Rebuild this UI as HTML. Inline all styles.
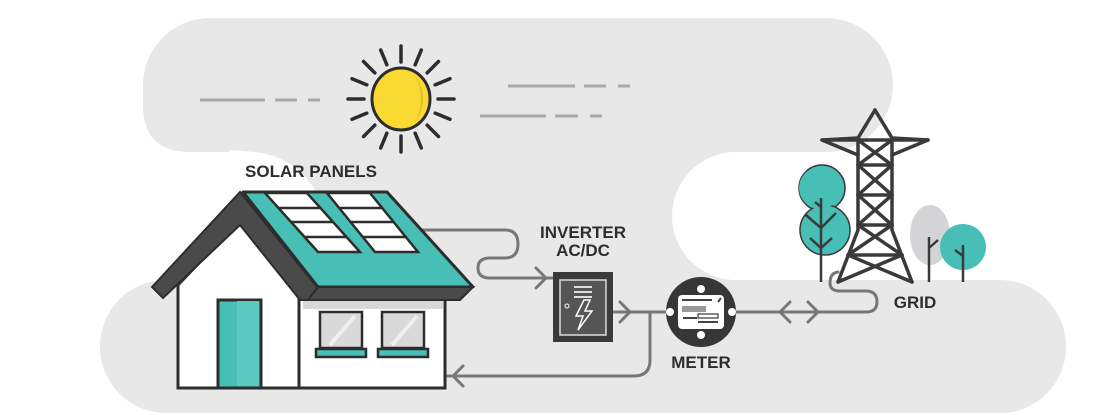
<!DOCTYPE html>
<html><head><meta charset="utf-8"><style>
html,body{margin:0;padding:0;background:#fff;}
svg{display:block;}
text{font-family:"Liberation Sans",sans-serif;font-weight:bold;fill:#2d2d2d;}
</style></head><body>
<svg width="1100" height="415" viewBox="0 0 1100 415" xmlns="http://www.w3.org/2000/svg">
<!-- background -->
<g fill="#e8e8e9">
<path d="M210 18 L826 18 A67 67 0 0 1 826 152 L190 152 Q143 152 143 105 L143 85 A67 67 0 0 1 210 18 Z"/>
<rect x="240" y="140" width="490" height="160"/>
</g>
<path d="M230 150 L255 152 Q305 158 325 210 L230 210 Z" fill="#fff"/>
<rect x="672" y="152" width="600" height="128" rx="64" fill="#fff"/>
<rect x="100" y="280" width="966" height="133" rx="66" fill="#e8e8e9"/>

<!-- dashes -->
<g stroke="#a9a9a9" stroke-width="3">
<line x1="200" y1="100" x2="265" y2="100"/><line x1="275" y1="100" x2="297" y2="100"/><line x1="308" y1="100" x2="320" y2="100"/>
<line x1="508" y1="86" x2="575" y2="86"/><line x1="584" y1="86" x2="606" y2="86"/><line x1="618" y1="86" x2="630" y2="86"/>
<line x1="480" y1="116" x2="546" y2="116"/><line x1="555" y1="116" x2="578" y2="116"/><line x1="590" y1="116" x2="602" y2="116"/>
</g>

<!-- sun -->
<g transform="translate(401,99)" stroke="#2d2d2d" stroke-width="3.5" stroke-linecap="round">
<g id="ray"><line x1="0" y1="-37" x2="0" y2="-53"/></g>
<use href="#ray" transform="rotate(22.5)"/><use href="#ray" transform="rotate(45)"/><use href="#ray" transform="rotate(67.5)"/>
<use href="#ray" transform="rotate(90)"/><use href="#ray" transform="rotate(112.5)"/><use href="#ray" transform="rotate(135)"/>
<use href="#ray" transform="rotate(157.5)"/><use href="#ray" transform="rotate(180)"/><use href="#ray" transform="rotate(202.5)"/>
<use href="#ray" transform="rotate(225)"/><use href="#ray" transform="rotate(247.5)"/><use href="#ray" transform="rotate(270)"/>
<use href="#ray" transform="rotate(292.5)"/><use href="#ray" transform="rotate(315)"/><use href="#ray" transform="rotate(337.5)"/>
<ellipse cx="0" cy="0" rx="29" ry="31" fill="#fbd933" stroke-width="3"/>
<path d="M14 -24 Q30 0 14 24 Q26 0 14 -24Z" fill="#e0bd2a" stroke="none"/>
</g>

<text x="311" y="177" font-size="17" text-anchor="middle">SOLAR PANELS</text>
<text x="583" y="238" font-size="17" text-anchor="middle">INVERTER</text>
<text x="583" y="256" font-size="17" text-anchor="middle">AC/DC</text>
<text x="701" y="368" font-size="17" text-anchor="middle">METER</text>
<text x="915" y="308" font-size="17" text-anchor="middle">GRID</text>

<!-- connectors -->
<g fill="none" stroke="#777" stroke-width="3" stroke-linecap="round" stroke-linejoin="round">
<path d="M407 230 L505 230 Q518 230 518 244 Q518 258 505 258 L490 258 Q478 258 478 268 Q478 278 490 278 L553 278"/>
<path d="M536 268 L546 278 L536 288"/>
<path d="M613 312 L667 312"/>
<path d="M620 302 L630 312 L620 322"/>
<path d="M650 312 L650 360 Q650 376 634 376 L447 376"/>
<path d="M463 366 L453 376 L463 386"/>
<path d="M736 312 L866 312 Q877 312 877 302 Q877 291 866 291 L840 291 Q830 291 830 283 Q830 273 838 272"/>
<path d="M790 302 L780 312 L790 322"/>
<path d="M808 302 L818 312 L808 322"/>
</g>

<!-- house -->
<path d="M178 285 L240 220 L299 285 L299 388 L178 388 Z" fill="#fff" stroke="#2d2d2d" stroke-width="3"/>
<rect x="299" y="297" width="146" height="91" fill="#fff" stroke="#2d2d2d" stroke-width="3"/>
<rect x="303" y="297" width="140" height="12" fill="#d8d8d8"/>
<path d="M152 287 L240 192 L318 288 L318 300 L300 300 L240 225 L163 298 Z" fill="#4a4a4a" stroke="#2d2d2d" stroke-width="2"/>
<path d="M243 192 L387 192 L473 287 L318 287 Z" fill="#47bfb6" stroke="#2d2d2d" stroke-width="3" stroke-linejoin="round"/>
<path d="M318 287 L473 287 L460 300 L308 300 Z" fill="#4a4a4a" stroke="#2d2d2d" stroke-width="2"/>
<g fill="#fff" stroke="#2d2d2d" stroke-width="2.5">
<path d="M265 193 L307 193 L360 252 L318 252 Z"/>
<path d="M327 193 L370 193 L418 252 L375 252 Z"/>
</g>
<g stroke="#2d2d2d" stroke-width="2.5">
<line x1="278" y1="208" x2="320" y2="208"/><line x1="291" y1="222" x2="333" y2="222"/><line x1="305" y1="237" x2="347" y2="237"/>
<line x1="339" y1="208" x2="382" y2="208"/><line x1="351" y1="222" x2="394" y2="222"/><line x1="363" y1="237" x2="406" y2="237"/>
</g>
<rect x="218" y="300" width="43" height="88" fill="#47bfb6" stroke="#2d2d2d" stroke-width="3"/>
<rect x="237" y="301" width="22" height="85" fill="#5cc9c0"/>
<g stroke="#2d2d2d" stroke-width="2.5">
<rect x="320" y="312" width="42" height="36" fill="#d9d9d9"/>
<rect x="382" y="312" width="42" height="36" fill="#d9d9d9"/>
<rect x="316" y="349" width="50" height="8" fill="#47bfb6"/>
<rect x="378" y="349" width="50" height="8" fill="#47bfb6"/>
</g>
<g stroke="#f0f0f0" stroke-width="4"><line x1="330" y1="345" x2="355" y2="316"/><line x1="392" y1="345" x2="417" y2="316"/></g>

<!-- inverter -->
<rect x="553" y="272" width="60" height="70" fill="#3a3a3a"/>
<rect x="560" y="280" width="46" height="55" fill="#555" stroke="#ddd" stroke-width="1.5"/>
<g stroke="#ddd" stroke-width="2"><line x1="574" y1="287" x2="592" y2="287"/><line x1="574" y1="292" x2="592" y2="292"/><line x1="574" y1="297" x2="592" y2="297"/></g>
<circle cx="567" cy="306" r="2" fill="none" stroke="#ddd" stroke-width="1.3"/>
<path d="M584 300 L576 316 L583 316 L578 330 L592 311 L585 311 L590 300 Z" fill="#555" stroke="#fff" stroke-width="1.5"/>

<!-- meter -->
<circle cx="701" cy="312" r="35" fill="#363636"/>
<rect x="678" y="295" width="46" height="34" rx="4" fill="#fff"/>
<g stroke="#444" stroke-width="2"><line x1="682" y1="300" x2="712" y2="300"/><line x1="683" y1="318" x2="697" y2="318"/><line x1="698" y1="322" x2="718" y2="322"/><line x1="718" y1="302" x2="721" y2="298"/></g>
<rect x="682" y="306" width="24" height="6" fill="#999"/>
<rect x="698" y="314" width="20" height="4" fill="none" stroke="#444" stroke-width="1.3"/>
<g fill="#fff"><circle cx="701" cy="289" r="4"/><circle cx="701" cy="335" r="4"/><circle cx="670" cy="312" r="4"/><circle cx="732" cy="312" r="4"/></g>

<!-- trees -->
<ellipse cx="930" cy="235" rx="20" ry="30" fill="#d4d4d6"/>
<circle cx="822" cy="188" r="23" fill="#47bfb6" stroke="#3a3a3a" stroke-width="1.5"/>
<circle cx="825" cy="230" r="25" fill="#47bfb6" stroke="#3a3a3a" stroke-width="1.5"/>
<circle cx="820" cy="188" r="21" fill="#47bfb6"/>
<circle cx="963" cy="247" r="23" fill="#47bfb6"/>
<g stroke="#3a3a3a" stroke-width="2.5" fill="none">
<line x1="821" y1="198" x2="821" y2="282"/>
<path d="M806 215 L821 228 L836 213"/><path d="M810 238 L821 248 L832 238"/><path d="M815 202 L821 207"/>
<line x1="929" y1="237" x2="929" y2="282"/><path d="M929 248 L938 240"/>
<line x1="963" y1="245" x2="963" y2="282"/><path d="M955 250 L963 256"/>
</g>

<!-- tower -->
<g stroke="#3a3a3a" stroke-width="3.5" fill="none" stroke-linejoin="round" stroke-linecap="round">
<path d="M875 110 L858 138 L822 140 L858 155"/>
<path d="M875 110 L892 138 L928 140 L892 155"/>
<line x1="822" y1="140" x2="928" y2="140"/>
<path d="M858 138 L858 230 L838 282"/>
<path d="M892 138 L892 230 L912 282"/>
<line x1="858" y1="165" x2="892" y2="165"/>
<line x1="858" y1="195" x2="892" y2="195"/>
<line x1="858" y1="225" x2="892" y2="225"/>
<line x1="848" y1="255" x2="902" y2="255"/>
<path d="M858 140 L892 165 M892 140 L858 165"/>
<path d="M858 165 L892 195 M892 165 L858 195"/>
<path d="M858 195 L892 225 M892 195 L858 225"/>
<path d="M858 225 L902 255 M892 225 L848 255"/>
<path d="M848 255 L912 282 M902 255 L838 282"/>
</g>
</svg>
</body></html>
